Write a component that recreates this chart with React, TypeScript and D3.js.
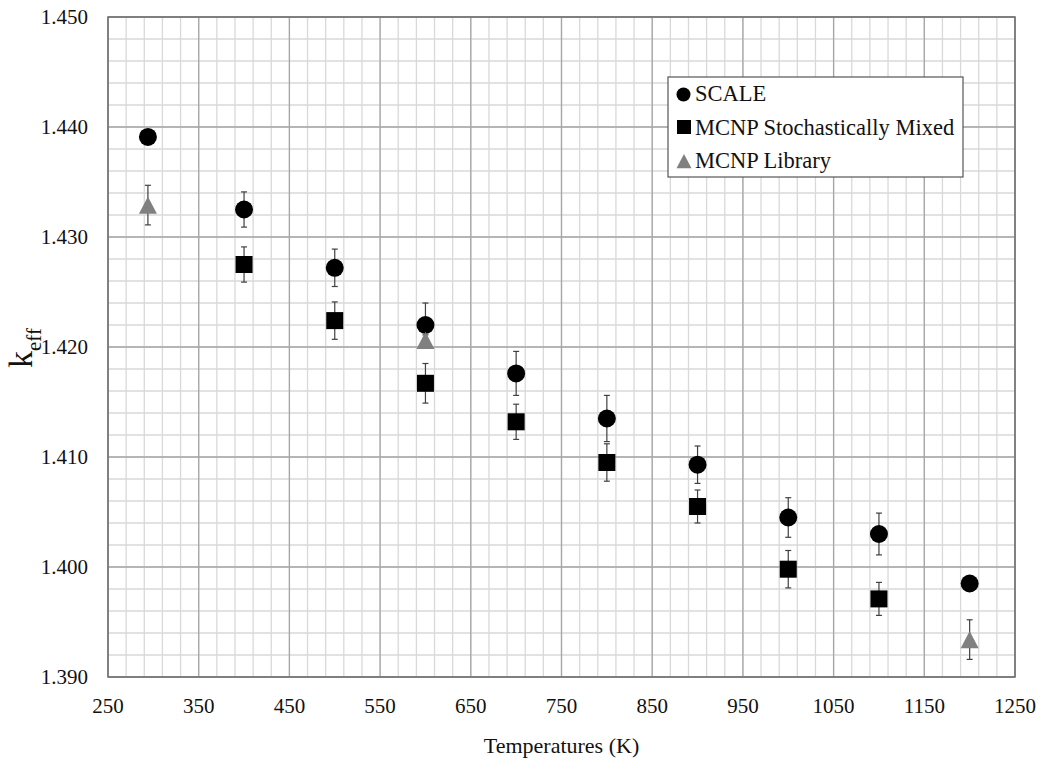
import React from "react";
import * as d3 from "d3";

const temps = [294, 400, 500, 600, 700, 800, 900, 1000, 1100, 1200];
const scaleVals = [1.4391, 1.4325, 1.4272, 1.422, 1.4176, 1.4135, 1.4093, 1.4045, 1.403, 1.3985];
const scaleErr = [0, 0.0016, 0.0017, 0.002, 0.002, 0.0021, 0.0017, 0.0018, 0.0019, 0];

const mixTemps = [400, 500, 600, 700, 800, 900, 1000, 1100];
const mixVals = [1.4275, 1.4224, 1.4167, 1.4132, 1.4095, 1.4055, 1.3998, 1.3971];
const mixErr = [0.0016, 0.0017, 0.0018, 0.0016, 0.0017, 0.0015, 0.0017, 0.0015];

const libTemps = [294, 600, 1200];
const libVals = [1.4329, 1.4206, 1.3934];
const libErr = [0.0018, 0.0005, 0.0018];

const xTicks = [250, 350, 450, 550, 650, 750, 850, 950, 1050, 1150, 1250];
const yTicks = [1.39, 1.4, 1.41, 1.42, 1.43, 1.44, 1.45];
const legendLabels = ["SCALE", "MCNP Stochastically Mixed", "MCNP Library"];

const W = 1042, H = 763;
const L = 108, R = 1015, T = 17, B = 677;
const FONT = "Liberation Serif, Times New Roman, DejaVu Serif, serif";
const tStyle = { fontFamily: FONT };

export default function App() {
  const x = d3.scaleLinear().domain([250, 1250]).range([L, R]);
  const y = d3.scaleLinear().domain([1.39, 1.45]).range([B, T]);

  const minorX = d3.range(250, 1251, 20);
  const minorY = d3.range(0, 31).map((i) => 1.39 + i * 0.002);

  const errBar = (xv: number, v: number, e: number, key: string) => {
    if (!e) return null;
    const cx = x(xv);
    return (
      <g key={key} stroke="#404040" strokeWidth={1.2}>
        <line x1={cx} x2={cx} y1={y(v + e)} y2={y(v - e)} />
        <line x1={cx - 3} x2={cx + 3} y1={y(v + e)} y2={y(v + e)} />
        <line x1={cx - 3} x2={cx + 3} y1={y(v - e)} y2={y(v - e)} />
      </g>
    );
  };

  const tri = (cx: number, cy: number, s: number) => {
    const h = s * 0.95;
    return `M${cx},${cy - h / 2} L${cx + s / 2},${cy + h / 2} L${cx - s / 2},${cy + h / 2} Z`;
  };

  return (
    <svg width={W} height={H} style={{ position: "absolute", left: 0, top: 0, background: "#fff", fontFamily: FONT }}>
      <rect x={0} y={0} width={W} height={H} fill="#fff" />
      {minorX.map((v) => (
        <line key={"mx" + v} x1={x(v)} x2={x(v)} y1={T} y2={B} stroke="#d9d9d9" strokeWidth={1.3} />
      ))}
      {minorY.map((v, i) => (
        <line key={"my" + i} x1={L} x2={R} y1={y(v)} y2={y(v)} stroke="#d9d9d9" strokeWidth={1.3} />
      ))}
      {xTicks.map((v) => (
        <line key={"Mx" + v} x1={x(v)} x2={x(v)} y1={T} y2={B} stroke="#a6a6a6" strokeWidth={1.3} />
      ))}
      {yTicks.map((v) => (
        <line key={"My" + v} x1={L} x2={R} y1={y(v)} y2={y(v)} stroke="#a6a6a6" strokeWidth={1.3} />
      ))}
      <rect x={L} y={T} width={R - L} height={B - T} fill="none" stroke="#6e6e6e" strokeWidth={1.5} />

      {yTicks.map((v) => (
        <text key={"yt" + v} x={88} y={y(v) + 7} textAnchor="end" fontSize={21} fill="#111" style={tStyle}>
          {v.toFixed(3)}
        </text>
      ))}
      {xTicks.map((v) => (
        <text key={"xt" + v} x={x(v)} y={713} textAnchor="middle" fontSize={21} fill="#111" style={tStyle}>
          {v}
        </text>
      ))}
      <text x={(L + R) / 2} y={753} textAnchor="middle" fontSize={22} fill="#111" style={tStyle}>
        Temperatures (K)
      </text>
      <text transform="translate(32,368) rotate(-90)" fontSize={34} fill="#111" style={tStyle}>
        k<tspan fontSize={21} dy={9}>eff</tspan>
      </text>

      {temps.map((t, i) => errBar(t, scaleVals[i], scaleErr[i], "se" + i))}
      {temps.map((t, i) => (
        <circle key={"sc" + i} cx={x(t)} cy={y(scaleVals[i])} r={9} fill="#000" />
      ))}
      {mixTemps.map((t, i) => errBar(t, mixVals[i], mixErr[i], "me" + i))}
      {mixTemps.map((t, i) => (
        <rect key={"mc" + i} x={x(t) - 8.5} y={y(mixVals[i]) - 8.5} width={17} height={17} fill="#000" />
      ))}
      {libTemps.map((t, i) => errBar(t, libVals[i], libErr[i], "le" + i))}
      {libTemps.map((t, i) => (
        <path key={"lb" + i} d={tri(x(t), y(libVals[i]), 18)} fill="#808080" />
      ))}

      <rect x={668} y={77} width={295} height={100} fill="#fff" stroke="#555" strokeWidth={1.2} />
      <circle cx={683.5} cy={94.5} r={7} fill="#000" />
      <rect x={677} y={120} width={14} height={14} fill="#000" />
      <path d={tri(684, 161, 15)} fill="#808080" />
      {legendLabels.map((lab, i) => (
        <text key={"lg" + i} x={695} y={101 + i * 33.5} fontSize={22.5} fill="#111" style={tStyle}>
          {lab}
        </text>
      ))}
    </svg>
  );
}
